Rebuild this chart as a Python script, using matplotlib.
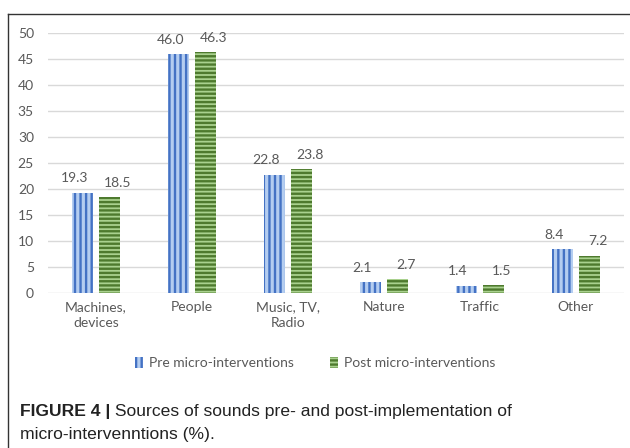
import matplotlib.pyplot as plt
import matplotlib.lines as mlines
import numpy as np

plt.rcParams['font.family'] = ['Lato', 'DejaVu Sans']
plt.rcParams['hatch.linewidth'] = 1.7

categories = ['Machines,\ndevices', 'People', 'Music, TV,\nRadio', 'Nature', 'Traffic', 'Other']
pre = [19.3, 46.0, 22.8, 2.1, 1.4, 8.4]
post = [18.5, 46.3, 23.8, 2.7, 1.5, 7.2]
yticks = [0, 5, 10, 15, 20, 25, 30, 35, 40, 45, 50]

fig = plt.figure(figsize=(6.3, 4.48), dpi=100)
ax = fig.add_axes([0.076, 0.346, 0.914, 0.58])

x = np.arange(len(categories))
w = 0.22
b1 = ax.bar(x - 0.14, pre, w, facecolor='#b4cdf0', edgecolor='#4472c4', hatch='|||',
            linewidth=0, label='Pre micro-interventions', zorder=3)
b2 = ax.bar(x + 0.14, post, w, facecolor='#a9d18e', edgecolor='#4e7a2e', hatch='----',
            linewidth=0, label='Post micro-interventions', zorder=3)

# labels sit a bit outward from the bar centres, like the excel original
for bars, vals, dx in ((b1, pre, -6), (b2, post, 6)):
    for r, v in zip(bars, vals):
        ax.annotate(f'{v:.1f}', (r.get_x() + r.get_width() / 2, v), xytext=(dx, 6),
                    textcoords='offset points', ha='center', va='bottom',
                    fontsize=10, color='#595959')

ax.set_xlim(-0.5, len(categories) - 0.5)
ax.set_ylim(0, 50)
ax.set_yticks(yticks)
ax.set_xticks(x)
ax.set_xticklabels(categories, linespacing=1.35)
ax.tick_params(axis='both', length=0, labelsize=10, colors='#595959')
ax.tick_params(axis='y', pad=10)
ax.tick_params(axis='x', pad=6)
ax.grid(axis='y', color='#d9d9d9', linewidth=1, zorder=0)
for s in ax.spines.values():
    s.set_visible(False)

leg = fig.legend(handles=[b1, b2], loc='center', bbox_to_anchor=(0.5, 1 - 363 / 448),
                 ncol=2, frameon=False, fontsize=10, handlelength=0.6, handleheight=0.8,
                 handletextpad=0.4, columnspacing=2.6)
for t in leg.get_texts():
    t.set_color('#595959')

# figure frame (top and left edge)
fig.add_artist(mlines.Line2D([8 / 630, 1], [1 - 14 / 448, 1 - 14 / 448], color='#333333', lw=1))
fig.add_artist(mlines.Line2D([8 / 630, 8 / 630], [0, 1 - 14 / 448], color='#333333', lw=1))

t1 = fig.text(20 / 630, 1 - 416 / 448, 'FIGURE 4 |', fontsize=12.6, fontweight='bold',
              family='Liberation Sans', color='#222222', va='baseline')
ax.annotate(' Sources of sounds pre- and post-implementation of', xy=(1, 0), xycoords=t1,
            fontsize=12.6, family='Liberation Sans', color='#222222', va='bottom',
            annotation_clip=False)
fig.text(20 / 630, 1 - 439 / 448, 'micro-intervenntions (%).', fontsize=12.6,
         family='Liberation Sans', color='#222222', va='baseline')

fig.savefig('out.png', dpi=100)
